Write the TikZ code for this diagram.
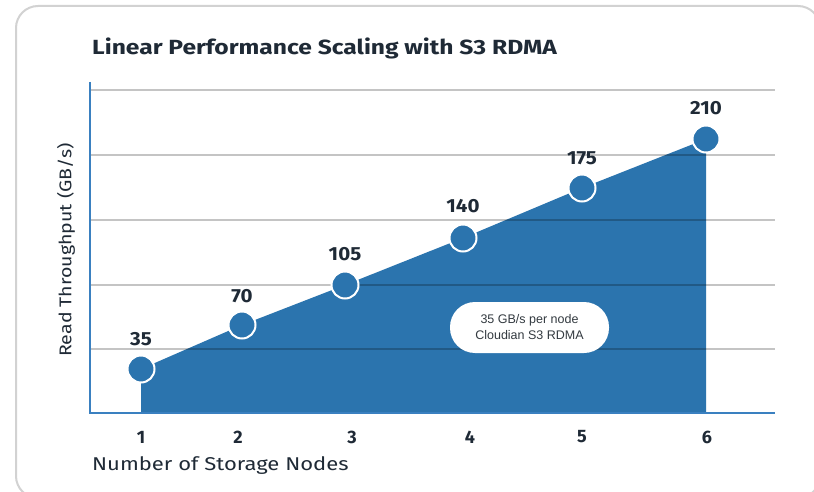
\documentclass[tikz,border=0pt]{standalone}
\usepackage{fontspec}
\setmainfont{Fira Sans}
\newfontfamily\annfont{Liberation Sans}
\definecolor{barblue}{HTML}{2B74AE}
\definecolor{axisblue}{HTML}{3A80C0}
\definecolor{inkdark}{HTML}{1F2A36}
\definecolor{framegray}{HTML}{D2D2D2}
\definecolor{anngray}{HTML}{333A40}
\begin{document}
\begin{tikzpicture}[x=1pt,y=-1pt,
  grid/.style={draw=black,opacity=0.23,line width=1.5pt},
  axisline/.style={draw=axisblue,line width=2pt},
  dot/.style={circle,fill=barblue,draw=white,line width=2pt,minimum size=27pt,inner sep=0pt},
  vallabel/.style={font=\fontsize{19}{22}\selectfont\bfseries,text=inkdark},
  ticklabel/.style={font=\fontsize{18}{21}\selectfont\bfseries,text=inkdark},
  axtitle/.style={font=\fontsize{18.5}{22}\selectfont,text=inkdark},
  pill/.style={fill=white,rounded corners=25pt,minimum width=159pt,minimum height=51pt,inner sep=0pt,align=center,font=\annfont\fontsize{12.5}{16}\selectfont,text=anngray}]
\useasboundingbox (0,0) rectangle (814,492);
\fill[white] (0,0) rectangle (814,492);
% frame (right and bottom edges fall outside the picture)
\begin{scope}
\clip (0,0) rectangle (814,492);
\draw[framegray,line width=2pt,rounded corners=22pt] (16,6) rectangle (820,498);
\end{scope}
% title
\node[anchor=west,font=\fontsize{20.5}{24}\selectfont\bfseries,text=inkdark,inner sep=0pt] (title) at (92,48) {\scalebox{1.2}[1]{Linear Performance Scaling with S3 RDMA}};
% coordinates
\coordinate (o) at (90,413);
\coordinate (xe) at (775,413);
\coordinate (yt) at (90,82);
\coordinate (b1) at (141,413);
\coordinate (b6) at (706,413);
\coordinate (P1) at (141,369);
\coordinate (P2) at (242,325);
\coordinate (P3) at (345,285);
\coordinate (P4) at (463,238);
\coordinate (P5) at (582,188);
\coordinate (P6) at (706,139);
% area
\fill[barblue] (b1) -- (P1) -- (P2) -- (P3) -- (P4) -- (P5) -- (P6) -- (b6) -- cycle;
% grid
\foreach \gy in {90,155,220,285,349}{
  \draw[grid] (90,\gy) coordinate (gl\gy) -- (775,\gy) coordinate (gr\gy);
}
% axes
\draw[axisline] (yt) -- (o) -- (xe);
% pill
\node[pill] (ann) at (529.5,327.5) {35 GB/s per node\\Cloudian S3 RDMA};
% dots
\foreach \i in {1,...,6}{ \node[dot] (d\i) at (P\i) {}; }
% value labels
\node[vallabel] (v1) at (141,339) {\scalebox{1.08}[1]{35}};
\node[vallabel] (v2) at (242,296) {\scalebox{1.08}[1]{70}};
\node[vallabel] (v3) at (345,254) {\scalebox{1.08}[1]{105}};
\node[vallabel] (v4) at (463,206) {\scalebox{1.08}[1]{140}};
\node[vallabel] (v5) at (582,158) {\scalebox{1.08}[1]{175}};
\node[vallabel] (v6) at (706,108) {\scalebox{1.08}[1]{210}};
% tick labels
\node[ticklabel] (t1) at (141,437) {1};
\node[ticklabel] (t2) at (238,437) {2};
\node[ticklabel] (t3) at (352,437) {3};
\node[ticklabel] (t4) at (470,437) {4};
\node[ticklabel] (t5) at (582,437) {5};
\node[ticklabel] (t6) at (707,437) {6};
% axis titles
\node[axtitle,anchor=west,inner sep=0pt] (xt) at (92,466) {\scalebox{1.19}[1]{Number of Storage Nodes}};
\node[axtitle,rotate=90,font=\fontsize{17}{20}\selectfont,inner sep=0pt] (yl) at (66,250) {\scalebox{1.15}[1]{Read Throughput (GB/s)}};
\end{tikzpicture}
\end{document}
